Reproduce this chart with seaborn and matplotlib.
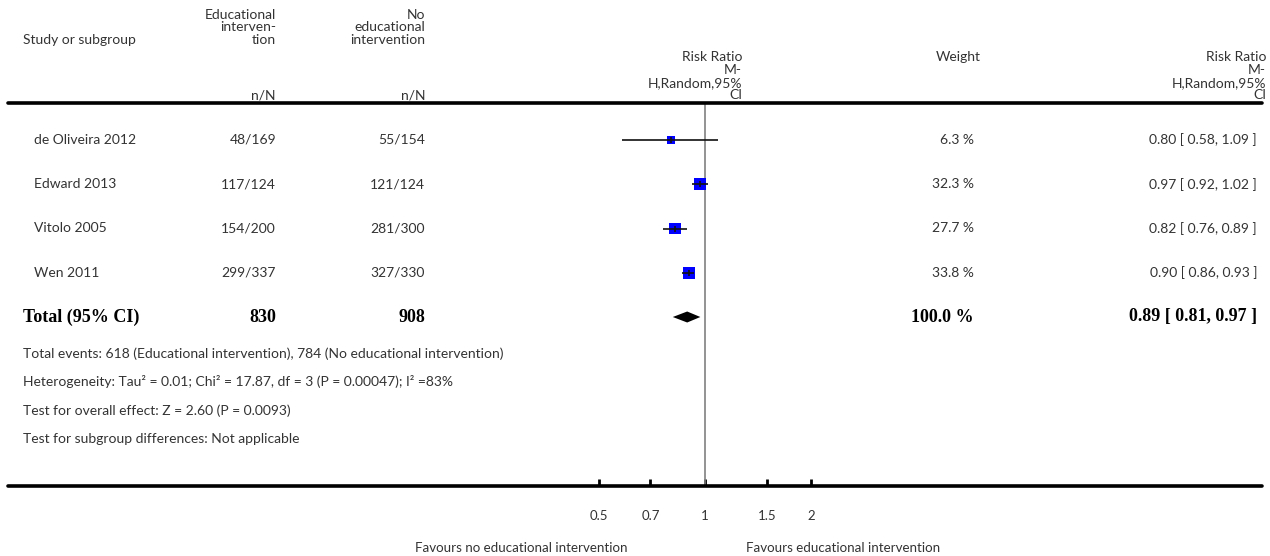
#!/usr/bin/env python3
"""
Forest plot: educational intervention vs no educational intervention (Risk Ratio).
"""

import numpy as np
import matplotlib
matplotlib.use("Agg")
import matplotlib.pyplot as plt
import matplotlib.transforms as mtransforms
from matplotlib.lines import Line2D
from matplotlib.ticker import FixedLocator, NullLocator
import seaborn as sns
import pandas as pd

# Study data
studies = ['de Oliveira 2012', 'Edward 2013', 'Vitolo 2005', 'Wen 2011']
edu_events = [48, 117, 154, 299]
edu_total = [169, 124, 200, 337]
ctl_events = [55, 121, 281, 327]
ctl_total = [154, 124, 300, 330]
weights = [6.3, 32.3, 27.7, 33.8]
rr = [0.80, 0.97, 0.82, 0.90]
rr_lo = [0.58, 0.92, 0.76, 0.86]
rr_hi = [1.09, 1.02, 0.89, 0.93]

# Pooled result
total_rr, total_lo, total_hi = 0.89, 0.81, 0.97
total_edu_n, total_ctl_n = 830, 908
total_weight = 100.0

tick_values = [0.5, 0.7, 1, 1.5, 2]
tick_labels = ['0.5', '0.7', '1', '1.5', '2']

footer_lines = [
    'Total events: 618 (Educational intervention), 784 (No educational intervention)',
    'Heterogeneity: Tau\u00b2 = 0.01; Chi\u00b2 = 17.87, df = 3 (P = 0.00047); I\u00b2 =83%',
    'Test for overall effect: Z = 2.60 (P = 0.0093)',
    'Test for subgroup differences: Not applicable',
]

W, H = 1270, 556

sns.set_theme(style='white')
plt.rcParams['font.family'] = ['Lato', 'DejaVu Sans']

fig = plt.figure(figsize=(W / 100, H / 100), dpi=100)


def px(x, y):
    return x / W, 1 - y / H


# forest axes: x=1 at pixel 705, 352 px per decade, from header line to axis line
half = 145
ax_left, ax_top, ax_bottom = 705 - half, 103, 486
ax = fig.add_axes([ax_left / W, 1 - ax_bottom / H, 2 * half / W, (ax_bottom - ax_top) / H])
ax.set_xscale('log')
dec = half / 352
ax.set_xlim(10 ** -dec, 10 ** dec)
row_y0, row_dy = 140, 44.25
ax.set_ylim((ax_bottom - row_y0) / row_dy, (ax_top - row_y0) / row_dy)

df = pd.DataFrame({'study': studies, 'rr': rr, 'lo': rr_lo, 'hi': rr_hi,
                   'weight': weights, 'row': np.arange(len(studies))})
side_px = 4 + 8.5 * np.sqrt(df['weight'] / max(weights))
df['size'] = (side_px * 0.72) ** 2

sns.scatterplot(data=df, x='rr', y='row', marker='s', s=df['size'].values,
                color='#0000ff', linewidth=0, legend=False, ax=ax, zorder=3)
ax.hlines(df['row'], df['lo'], df['hi'], color='#111111', lw=1.2, zorder=4)
ax.plot(df['rr'], df['row'], linestyle='none', marker='|', color='#111111',
        markersize=4, markeredgewidth=1.2, zorder=4)

# pooled diamond
trow = len(studies)
dh = 5.5 / row_dy
ax.fill([total_lo, total_rr, total_hi, total_rr], [trow, trow - dh, trow, trow + dh],
        color='black', lw=0, zorder=4)

ax.axvline(1, color='#808080', lw=1.2, zorder=2)

for s in ax.spines.values():
    s.set_visible(False)
ax.xaxis.set_major_locator(FixedLocator(tick_values))
ax.xaxis.set_minor_locator(NullLocator())
ax.set_xticklabels(tick_labels)
ax.set_yticks([])
ax.set_xlabel('')
ax.set_ylabel('')
ax.tick_params(axis='x', direction='in', length=5, width=2, color='black',
               pad=17, labelsize=9.5, labelcolor='#333333', bottom=True)
ax.patch.set_alpha(0)

# horizontal rules
for yy in (103, 486):
    fig.add_artist(Line2D([8 / W, 1262 / W], [1 - yy / H] * 2, color='black', lw=2.6,
                          transform=fig.transFigure))

txt = dict(fontsize=10, color='#333333')
bold = dict(fontsize=13, color='black', fontweight='bold', family='Liberation Serif')


def put(x, y, s, ha='left', **kw):
    fig.text(*px(x, y), s, ha=ha, va='center', **kw)


# column headers
put(23, 40, 'Study or subgroup', **txt)
for yy, s in zip((15, 27, 40, 95), ('Educational', 'interven-', 'tion', 'n/N')):
    put(276, yy, s, ha='right', **txt)
for yy, s in zip((15, 27, 40, 95), ('No', 'educational', 'intervention', 'n/N')):
    put(425, yy, s, ha='right', **txt)
for xx in (742, 1266):
    for yy, s in zip((57, 70, 83, 95), ('Risk Ratio', 'M-', 'H,Random,95%', 'CI')):
        put(xx, yy, s, ha='right', **txt)
put(958, 57, 'Weight', ha='center', **txt)

# study rows (x in figure, y in data rows)
rows_tf = mtransforms.blended_transform_factory(fig.transFigure, ax.transData)
for i in range(len(studies)):
    cells = [(34, 'left', studies[i]),
             (276, 'right', f'{edu_events[i]}/{edu_total[i]}'),
             (425, 'right', f'{ctl_events[i]}/{ctl_total[i]}'),
             (974, 'right', f'{weights[i]:.1f} %'),
             (1257, 'right', f'{rr[i]:.2f} [ {rr_lo[i]:.2f}, {rr_hi[i]:.2f} ]')]
    for xx, ha, s in cells:
        fig.text(xx / W, i, s, ha=ha, va='center', transform=rows_tf, **txt)

total_cells = [(23, 'left', 'Total (95% CI)'),
               (276, 'right', f'{total_edu_n}'),
               (425, 'right', f'{total_ctl_n}'),
               (974, 'right', f'{total_weight:.1f} %'),
               (1257, 'right', f'{total_rr:.2f} [ {total_lo:.2f}, {total_hi:.2f} ]')]
for xx, ha, s in total_cells:
    fig.text(xx / W, trow, s, ha=ha, va='center', transform=rows_tf, **bold)

for yy, s in zip((354, 382, 411, 439), footer_lines):
    put(23, yy, s, **txt)

fav = dict(txt, fontsize=9.6)
put(521, 548, 'Favours no educational intervention', ha='center', **fav)
put(843, 548, 'Favours educational intervention', ha='center', **fav)

fig.savefig('out.png', dpi=100)
plt.close(fig)
